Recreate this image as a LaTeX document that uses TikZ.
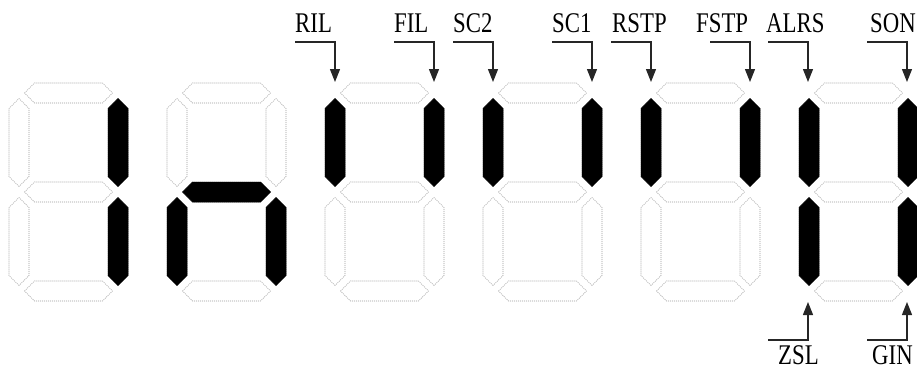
\documentclass[tikz,border=0pt]{standalone}
\usepackage{fontspec}
\newfontfamily\tagfont[FakeStretch=0.8]{Liberation Serif}
\usetikzlibrary{arrows.meta}

\tikzset{
    % one segment, drawn horizontally
    seg/.pic={
        \path[pic actions] (-44,0) -- (-34,-10) -- (34,-10) -- (44,0)
            -- (34,10) -- (-34,10) -- cycle;
    },
    seg off/.style={draw=gray!80, line width=0.6pt, dash pattern=on 1pt off 1pt},
    seg on/.style={draw=black, fill=black, line width=0.5pt},
    turn a/.style={}, turn d/.style={}, turn g/.style={},
    turn b/.style={rotate=90}, turn c/.style={rotate=90},
    turn e/.style={rotate=90}, turn f/.style={rotate=90},
    tag/.style={anchor=base west, inner sep=0pt, font=\tagfont\fontsize{28.5}{29}\selectfont},
    tag arrow/.style={black!85, line width=1.2pt, -{Triangle[width=10pt,length=13pt]}}
}

\begin{document}
\begin{tikzpicture}[x=1pt, y=-1pt]

    \useasboundingbox (0,0) rectangle (917,369);

    % Segments apagats
    \foreach \d in {0,...,5}{
        \begin{scope}[shift={(19+158*\d,93)}]
            \foreach \x/\y in {49.5/0, 49.5/99, 49.5/198}
                \pic[seg off] at (\x,\y) {seg};
            \foreach \x/\y in {0/49.5, 0/148.5, 99/49.5, 99/148.5}
                \pic[seg off, rotate=90] at (\x,\y) {seg};
        \end{scope}
    }

    % Segments encesos
    \foreach \d/\lit in {0/{b,c}, 1/{c,e,g}, 2/{b,f}, 3/{b,f}, 4/{b,f}, 5/{b,c,e,f}}{
        \begin{scope}[shift={(19+158*\d,93)}]
            \coordinate (a) at (49.5,0);
            \coordinate (b) at (99,49.5);
            \coordinate (c) at (99,148.5);
            \coordinate (d) at (49.5,198);
            \coordinate (e) at (0,148.5);
            \coordinate (f) at (0,49.5);
            \coordinate (g) at (49.5,99);
            \foreach \s in \lit
                \pic[seg on, turn \s] at (\s) {seg};
        \end{scope}
    }

    % Etiquetes de dalt
    \foreach \name/\lx/\tx in {RIL/295/335, FIL/394/434, SC2/453/493, SC1/552/592,
                               RSTP/612/651, FSTP/696/750, ALRS/766/808, SON/870/907}{
        \node[tag] (\name) at (\lx,33) {\name};
        \coordinate (\name-from) at (\tx-40,42);
        \coordinate (\name-to) at (\tx,82);
        \draw[tag arrow] (\name-from) -| (\name-to);
    }

    % Etiquetes de baix
    \foreach \name/\lx/\tx in {ZSL/778/808, GIN/872/907}{
        \node[tag] (\name) at (\lx,364) {\name};
        \coordinate (\name-from) at (\tx-40,340);
        \coordinate (\name-to) at (\tx,302);
        \draw[tag arrow] (\name-from) -| (\name-to);
    }

\end{tikzpicture}
\end{document}
